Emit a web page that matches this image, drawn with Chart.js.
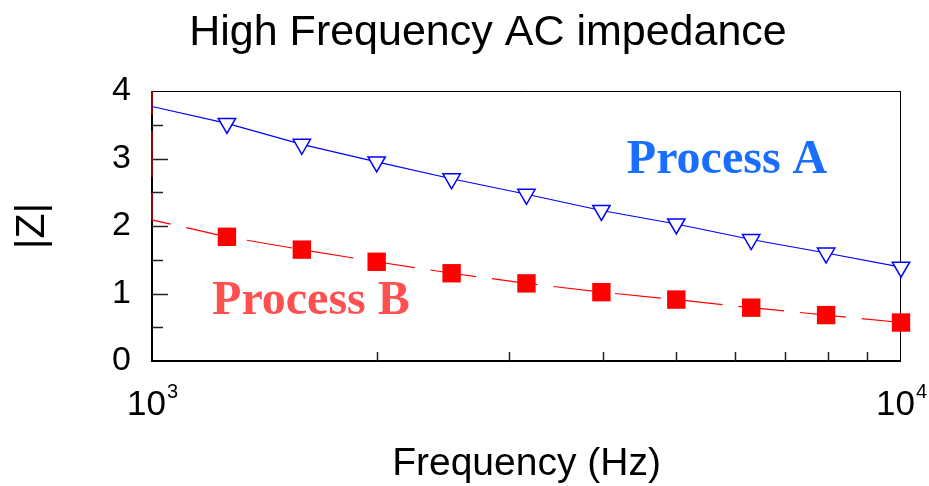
<!DOCTYPE html>
<html>
<head>
<meta charset="utf-8">
<script src="https://cdn.jsdelivr.net/npm/chart.js@4"></script>
<style>
  html, body { margin: 0; padding: 0; background: #fff; }
  #wrap { width: 929px; height: 486px; }
</style>
</head>
<body>
<div id="wrap"><canvas id="c" width="929" height="486"></canvas></div>
<script>
// ---- data ----
const titleText = 'High Frequency AC impedance';
const xTitle = 'Frequency (Hz)';
const yTitle = '|Z|';
const freq = [1000, 1259, 1585, 1995, 2512, 3162, 3981, 5012, 6310, 7943, 10000];
const zA   = [3.77, 3.52, 3.21, 2.95, 2.70, 2.47, 2.23, 2.03, 1.80, 1.60, 1.39];
const zB   = [2.09, 1.84, 1.65, 1.47, 1.30, 1.15, 1.02, 0.91, 0.79, 0.68, 0.57];
const bEdgeTop = 4.0;           // red dashed line rising along left edge
const xMin = 1000, xMax = 10000;
const yMin = 0, yMax = 4;
const xTickValues = [1000, 2000, 3000, 4000, 5000, 6000, 7000, 8000, 9000, 10000];
const xLabelValues = [1000, 10000];
const xLabelBase = ['10', '10'];
const xLabelExp  = ['3', '4'];
const seriesNames = ['Process A', 'Process B'];
const labelPosX = [5858, 1630];
const labelPosY = [2.785, 0.696];

const FONT = "'Liberation Sans', Arial, sans-serif";
const colorA = '#0000ff', colorB = '#ff0000';
const textColors = ['#1a6eff', '#ff5050'];

const dataA = freq.map((f, i) => ({x: f, y: zA[i]}));
const dataB = [{x: freq[0], y: bEdgeTop}].concat(freq.map((f, i) => ({x: f, y: zB[i]})));

const decor = {
  id: 'decor',
  beforeDatasetsDraw(chart) {
    const {ctx, chartArea: a, scales: {x, y}} = chart;
    ctx.save();
    // title
    ctx.fillStyle = '#000';
    ctx.font = '43px ' + FONT;
    ctx.textAlign = 'center';
    ctx.textBaseline = 'alphabetic';
    ctx.fillText(titleText, 488, 45);
    // frame
    ctx.strokeStyle = '#000';
    ctx.lineWidth = 1;
    ctx.beginPath();
    ctx.moveTo(a.left, a.top + 0.5); ctx.lineTo(a.right, a.top + 0.5);
    ctx.moveTo(a.right - 0.5, a.top); ctx.lineTo(a.right - 0.5, a.bottom);
    ctx.stroke();
    ctx.lineWidth = 2;
    ctx.beginPath();
    ctx.moveTo(a.left, a.bottom); ctx.lineTo(a.right, a.bottom);
    ctx.moveTo(a.left, a.top); ctx.lineTo(a.left, a.bottom + 1);
    ctx.stroke();
    // inward ticks
    ctx.lineWidth = 1.5;
    ctx.strokeStyle = '#222';
    ctx.beginPath();
    y.ticks.forEach(t => {
      if (t.value <= yMin || t.value >= yMax) return;
      const py = Math.round(y.getPixelForValue(t.value)) + 0.5;
      const len = Number.isInteger(t.value) ? 16 : 11;
      ctx.moveTo(a.left, py); ctx.lineTo(a.left + len, py);
    });
    x.ticks.forEach(t => {
      if (t.value <= xMin || t.value >= xMax) return;
      const px = Math.round(x.getPixelForValue(t.value)) + 0.5;
      ctx.moveTo(px, a.bottom); ctx.lineTo(px, a.bottom - 9);
    });
    ctx.stroke();
    // x tick labels with exponents
    ctx.fillStyle = '#000';
    xLabelValues.forEach((v, i) => {
      const px = x.getPixelForValue(v);
      ctx.font = '35px ' + FONT;
      const wb = ctx.measureText(xLabelBase[i]).width;
      ctx.font = '20px ' + FONT;
      const we = ctx.measureText(xLabelExp[i]).width;
      const start = px - (wb + we) / 2;
      ctx.font = '35px ' + FONT;
      ctx.textAlign = 'left';
      ctx.fillText(xLabelBase[i], start, a.bottom + 54);
      ctx.font = '20px ' + FONT;
      ctx.fillText(xLabelExp[i], start + wb + 1, a.bottom + 37);
    });
    // series labels
    ctx.font = "bold 48px 'Liberation Serif', 'Times New Roman', serif";
    ctx.textAlign = 'center';
    seriesNames.forEach((n, i) => {
      ctx.fillStyle = textColors[i];
      ctx.fillText(n, x.getPixelForValue(labelPosX[i]), y.getPixelForValue(labelPosY[i]));
    });
    ctx.restore();
  }
};

new Chart(document.getElementById('c'), {
  type: 'line',
  data: {
    datasets: [
      {
        label: seriesNames[0],
        data: dataA,
        clip: false,
        borderColor: colorA,
        borderWidth: 1.2,
        backgroundColor: '#fff',
        pointStyle: 'triangle',
        pointRotation: 180,
        pointRadius: dataA.map((p, i) => i === 0 ? 0 : 10),
        pointBorderColor: colorA,
        pointBackgroundColor: '#fff',
        pointBorderWidth: 1.5,
        tension: 0
      },
      {
        label: seriesNames[1],
        data: dataB,
        clip: false,
        borderColor: colorB,
        borderWidth: 1.2,
        borderDash: [46, 16],
        borderDashOffset: 22,
        pointStyle: 'rect',
        pointRadius: dataB.map((p, i) => i < 2 ? 0 : 13),
        pointBorderWidth: 0,
        pointBackgroundColor: colorB,
        pointBorderColor: colorB,
        tension: 0
      }
    ]
  },
  options: {
    responsive: false,
    animation: false,
    devicePixelRatio: 1,
    layout: { padding: { left: 0, right: 28, top: 91, bottom: 0 } },
    plugins: {
      legend: { display: false },
      tooltip: { enabled: false },
      title: { display: false }
    },
    scales: {
      x: {
        type: 'logarithmic',
        min: xMin, max: xMax,
        grid: { display: false, drawTicks: false },
        border: { display: false },
        afterBuildTicks(s) { s.ticks = xTickValues.map(v => ({value: v})); },
        ticks: { autoSkip: false, callback: () => '', padding: 0 },
        title: {
          display: true, text: xTitle, color: '#000',
          font: { family: FONT, size: 39, lineHeight: 1.0 },
          padding: { top: 0, bottom: 2.5 }
        },
        afterFit(s) { s.height = 125; }
      },
      y: {
        min: yMin, max: yMax,
        grid: { display: false, drawTicks: false },
        border: { display: false },
        ticks: {
          stepSize: 0.5,
          autoSkip: false,
          padding: 21,
          color: '#000',
          font: { family: FONT, size: 34 },
          callback: v => Number.isInteger(v) ? String(v) : ''
        },
        title: {
          display: true, text: yTitle, color: '#000',
          font: { family: FONT, size: 41, lineHeight: 1.0 },
          padding: { top: 12, bottom: 0 }
        },
        afterFit(s) { s.width = 152; }
      }
    }
  },
  plugins: [decor]
});
</script>
</body>
</html>
